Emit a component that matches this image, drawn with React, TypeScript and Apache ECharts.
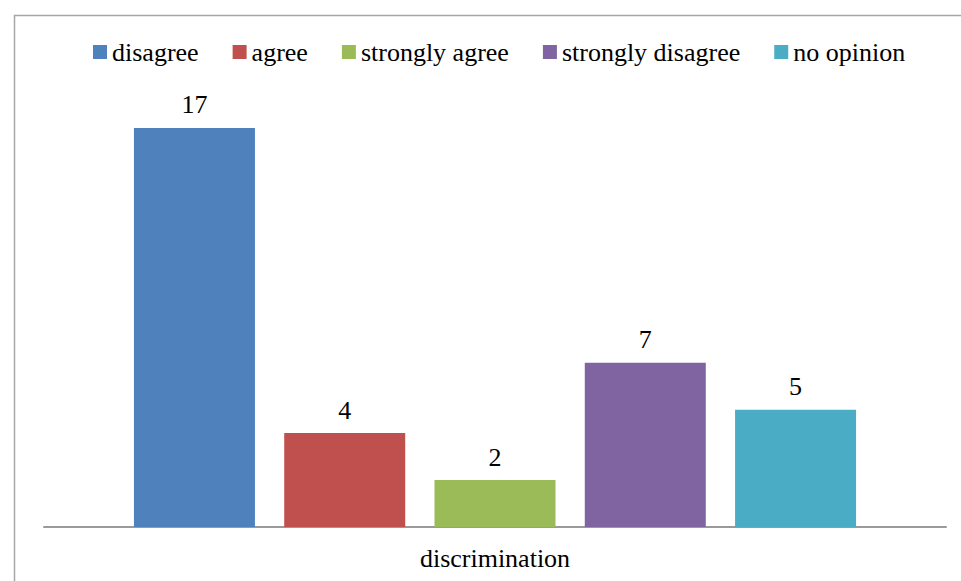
import React, { useEffect, useRef } from "react";
import * as echarts from "echarts";

// Survey answers for a single question
const categories = ["discrimination"];
const seriesNames = ["disagree", "agree", "strongly agree", "strongly disagree", "no opinion"];
const seriesValues = [17, 4, 2, 7, 5];
const seriesColors = ["#4F81BD", "#C0504D", "#9BBB59", "#8064A2", "#4BACC6"];

const FONT = "'Liberation Serif', 'Times New Roman', serif";

export default function App() {
  const ref = useRef<HTMLDivElement>(null);

  useEffect(() => {
    if (!ref.current) return;
    const chart = echarts.init(ref.current, undefined, { renderer: "svg" });
    chart.setOption({
      animation: false,
      backgroundColor: "#ffffff",
      textStyle: { fontFamily: FONT },
      graphic: [
        {
          // chart-area frame, running off the right and bottom edges
          type: "rect",
          shape: { x: 14.5, y: 15.5, width: 1000, height: 1000 },
          style: { fill: "none", stroke: "#a6a6a6", lineWidth: 1.5 },
          silent: true,
        },
      ],
      legend: {
        left: 93,
        top: 39,
        padding: 0,
        itemWidth: 14,
        itemHeight: 14,
        itemGap: 34,
        icon: "rect",
        textStyle: { fontFamily: FONT, fontSize: 26, color: "#000000" },
        data: seriesNames,
      },
      grid: { left: 44, right: 15, top: 104.5, bottom: 54, containLabel: false },
      xAxis: {
        type: "category",
        data: categories,
        axisLine: { show: true, lineStyle: { color: "#9a9a9a", width: 2 } },
        axisTick: { show: false },
        axisLabel: { fontFamily: FONT, fontSize: 26, color: "#000000", margin: 18 },
      },
      yAxis: {
        type: "value",
        min: 0,
        max: 18,
        show: false,
        splitLine: { show: false },
      },
      series: seriesNames.map((name, i) => ({
        name,
        type: "bar",
        data: [seriesValues[i]],
        barWidth: 121,
        barGap: "24.2%",
        itemStyle: { color: seriesColors[i] },
        label: {
          show: true,
          position: "top",
          distance: 10,
          fontFamily: FONT,
          fontSize: 26,
          color: "#000000",
        },
      })),
    });
    return () => chart.dispose();
  }, []);

  return (
    <div
      ref={ref}
      style={{ position: "fixed", left: 0, top: 0, width: 961, height: 581 }}
    />
  );
}
